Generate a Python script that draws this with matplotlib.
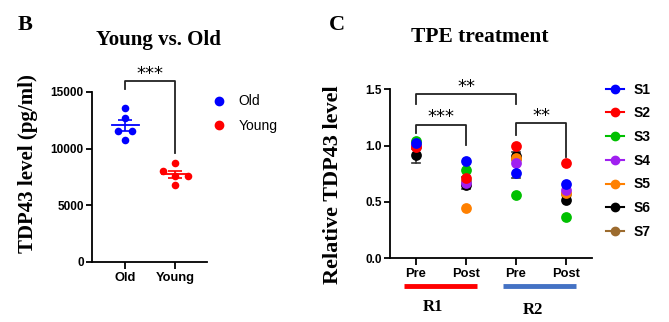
import matplotlib

matplotlib.use("Agg")
import matplotlib.pyplot as plt
import matplotlib.transforms as mtransforms
import numpy as np
from matplotlib.lines import Line2D

# panel B: TDP43 (pg/ml) per animal
groups_b = ["Old", "Young"]
old_vals = [13600, 12700, 11600, 11600, 10800]
young_vals = [8700, 8000, 7600, 7600, 6800]
old_jitter = [0.0, 0.0, -0.14, 0.14, 0.0]
young_jitter = [0.0, -0.25, 0.0, 0.26, 0.0]
colors_b = ["#0000ff", "#ff0000"]

# panel C: relative TDP43 per subject, columns = R1 Pre, R1 Post, R2 Pre, R2 Post
conds_c = ["Pre", "Post", "Pre", "Post"]
subjects = ["S1", "S2", "S3", "S4", "S5", "S6", "S7"]
subj_colors = ["#0000ff", "#ff0000", "#00c000", "#a020f0", "#ff8000", "#000000", "#9c6b2e"]
s1 = [1.02, 0.86, 0.76, 0.66]
s2 = [0.99, 0.71, 1.00, 0.85]
s3 = [1.04, 0.78, 0.56, 0.37]
s4 = [1.00, 0.67, 0.85, 0.61]
s5 = [1.00, 0.45, 0.89, 0.58]
s6 = [0.92, 0.65, 0.91, 0.52]
s7 = [1.00, 0.69, 0.88, 0.57]
subj_vals = [s1, s2, s3, s4, s5, s6, s7]
err_lo = [0.85, 0.615, 0.71, 0.52]
err_hi = [0.97, 0.72, 0.94, 0.52]

W, H = 669, 322
fig = plt.figure(figsize=(W / 100, H / 100), dpi=100)
serif = "Liberation Serif"
sans = "Liberation Sans"


def px_axes(x0, y_top, x1, y_bot):
    return fig.add_axes([x0 / W, 1 - y_bot / H, (x1 - x0) / W, (y_bot - y_top) / H])


def style(ax):
    for s in ("top", "right"):
        ax.spines[s].set_visible(False)
    for s in ("left", "bottom"):
        ax.spines[s].set_linewidth(1.3)
    ax.tick_params(width=1.3, length=4, pad=2)
    ax.tick_params(axis="y", labelsize=8.5)
    ax.tick_params(axis="x", labelsize=9.3, length=5)
    for lab in ax.get_xticklabels() + ax.get_yticklabels():
        lab.set_fontweight("bold")
        lab.set_fontfamily(sans)


def bracket(ax, x0, x1, top, l0, l1, stars, ty):
    ax.plot([x0, x0, x1, x1], [l0, top, top, l1], color="#222222", lw=1.3, clip_on=False)
    ax.text((x0 + x1) / 2, ty, stars, ha="center", va="center", fontsize=13,
            fontfamily="DejaVu Sans", clip_on=False)


def fig_text(x, y, s, **kw):
    fig.text(x / W, 1 - y / H, s, ha="center", va="center", fontfamily=serif,
             fontweight="bold", **kw)


# ---- panel B
axb = px_axes(92, 92, 207, 262)
axb.set_xlim(-0.66, 1.64)
axb.set_ylim(0, 15000)
axb.set_yticks([0, 5000, 10000, 15000])
axb.set_xticks([0, 1], groups_b)
for i, (vals, jit) in enumerate([(old_vals, old_jitter), (young_vals, young_jitter)]):
    c = colors_b[i]
    vals = np.array(vals)
    axb.scatter(i + np.array(jit), vals, s=30, color=c, zorder=3, linewidths=0)
    m = vals.mean()
    sem = vals.std(ddof=1) / np.sqrt(len(vals))
    axb.plot([i - 0.27, i + 0.27], [m, m], color=c, lw=1.3, zorder=4)
    axb.errorbar(i, m, yerr=sem, color=c, capsize=5, lw=1.2, capthick=1.2, zorder=4)
style(axb)
bracket(axb, 0, 1, 15990, 15260, 9610, "***", 16600)
handles_b = [Line2D([], [], marker="o", ls="", color=c, markersize=6) for c in colors_b]
axb.legend(handles_b, groups_b, loc="upper left", bbox_to_anchor=(193 / W, 1 - 82 / H),
           bbox_transform=fig.transFigure, frameon=False, handletextpad=0.4,
           labelspacing=0.75, prop={"family": sans, "size": 10})

# ---- panel C
axc = px_axes(390, 89.3, 592, 258.3)
axc.set_xlim(-0.52, 3.52)
axc.set_ylim(0, 1.5)
axc.set_yticks([0, 0.5, 1.0, 1.5], ["0.0", "0.5", "1.0", "1.5"])
xs = np.arange(len(conds_c))
axc.set_xticks(xs, conds_c)
for x, lo, hi in zip(xs, err_lo, err_hi):
    if hi > lo:
        axc.plot([x, x], [lo, hi], color="#333333", lw=1.2, zorder=2)
        axc.plot([x - 0.08, x + 0.08], [lo, lo], color="#333333", lw=1.2, zorder=2)
        axc.plot([x - 0.08, x + 0.08], [hi, hi], color="#333333", lw=1.2, zorder=2)
for vals, c in list(zip(subj_vals, subj_colors))[::-1]:
    axc.scatter(xs, vals, s=60, color=c, zorder=3, linewidths=0)
style(axc)
bracket(axc, 0, 2, 1.456, 1.369, 1.369, "**", 1.52)
bracket(axc, 0, 1, 1.186, 1.112, 1.006, "***", 1.25)
bracket(axc, 2, 3, 1.198, 1.094, 0.902, "**", 1.26)
tr = mtransforms.blended_transform_factory(axc.transData, axc.transAxes)
axc.plot([-0.24, 1.21], [-0.164, -0.164], color="#ff0000", lw=3.5, transform=tr, clip_on=False,
         solid_capstyle="butt")
axc.plot([1.74, 3.2], [-0.164, -0.164], color="#4472c4", lw=3.5, transform=tr, clip_on=False,
         solid_capstyle="butt")
axc.text(0.34, -0.29, "R1", transform=tr, ha="center", va="center", fontfamily=serif,
         fontweight="bold", fontsize=12)
axc.text(2.34, -0.305, "R2", transform=tr, ha="center", va="center", fontfamily=serif,
         fontweight="bold", fontsize=12)
handles_c = [Line2D([], [], marker="o", color=c, lw=1.5, markersize=6) for c in subj_colors]
axc.legend(handles_c, subjects, loc="upper left", bbox_to_anchor=(593 / W, 1 - 70 / H),
           bbox_transform=fig.transFigure, frameon=False, handlelength=1.3,
           handletextpad=0.7, labelspacing=0.7,
           prop={"family": sans, "size": 10, "weight": "bold"})

# titles, axis labels, panel letters
fig_text(158, 40, "Young vs. Old", fontsize=15)
fig_text(480, 37, "TPE treatment", fontsize=15.5)
fig_text(28, 164, "TDP43 level (pg/ml)", fontsize=15, rotation=90)
fig_text(333, 185, "Relative TDP43 level", fontsize=16, rotation=90)
fig_text(25, 25, "B", fontsize=16)
fig_text(337, 25, "C", fontsize=16)

fig.savefig("out.png", dpi=100)
